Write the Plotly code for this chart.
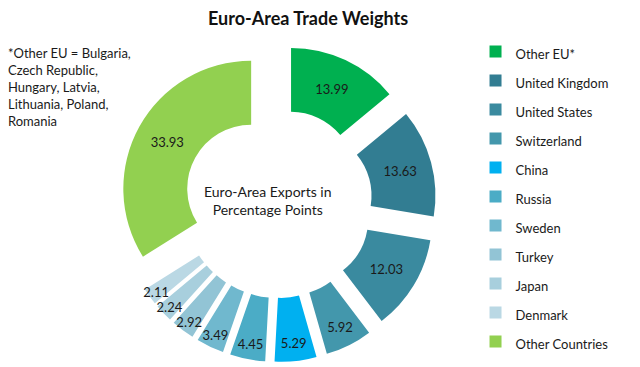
import plotly.graph_objects as go

categories = ["Other EU*", "United Kingdom", "United States", "Switzerland", "China",
              "Russia", "Sweden", "Turkey", "Japan", "Denmark", "Other Countries"]
values = [13.99, 13.63, 12.03, 5.92, 5.29, 4.45, 3.49, 2.92, 2.24, 2.11, 33.93]
colors = ["#00B050", "#327D92", "#3A8A9F", "#4397AC", "#00B0F0", "#4BACC6",
          "#70B8CE", "#92C4D5", "#A8CFDD", "#BAD8E4", "#92D050"]

title_text = "Euro-Area Trade Weights"
center_text = "Euro-Area Exports in<br>Percentage Points"
note_text = "*Other EU = Bulgaria,<br>Czech Republic,<br>Hungary, Latvia,<br>Lithuania, Poland,<br>Romania"

FONT = "Lato, 'Open Sans', sans-serif"

fig = go.Figure(go.Pie(
    labels=['<span style="font-size:13px">' + c + '</span>' for c in categories],
    values=values,
    text=[f"{v:.2f}" for v in values],
    textinfo="text",
    textposition="inside",
    insidetextorientation="horizontal",
    textfont=dict(family=FONT, size=13, color="#1a1a1a"),
    marker=dict(colors=colors, line=dict(width=0)),
    hole=0.5,
    pull=[0.24] * len(values),
    sort=False,
    direction="clockwise",
    rotation=0,
    domain=dict(x=[119.5 / 640, 436.5 / 640], y=[1 - 362 / 367, 1 - 45 / 367]),
    hoverinfo="label+value",
))

fig.update_layout(
    width=640, height=367,
    margin=dict(l=0, r=0, t=0, b=0),
    paper_bgcolor="white",
    font=dict(family=FONT, color="#1a1a1a"),
    uniformtext=dict(minsize=13, mode="show"),
    showlegend=True,
    legend=dict(
        x=0.743, xanchor="left", y=0.913, yanchor="top",
        font=dict(family=FONT, size=20, color="#1a1a1a"),
        bgcolor="rgba(0,0,0,0)",
        itemwidth=30,
    ),
    annotations=[
        dict(text="<b>" + title_text + "</b>", x=308 / 640, y=1 - 18 / 367,
             xref="paper", yref="paper", showarrow=False,
             font=dict(family=FONT, size=18, color="#111111"),
             xanchor="center", yanchor="middle"),
        dict(text=center_text, x=268 / 640, y=1 - 200 / 367,
             xref="paper", yref="paper", showarrow=False,
             font=dict(family=FONT, size=14, color="#1a1a1a"),
             xanchor="center", yanchor="middle", align="center"),
        dict(text=note_text, x=6 / 640, y=1 - 86.5 / 367,
             xref="paper", yref="paper", showarrow=False,
             font=dict(family=FONT, size=13, color="#1a1a1a"),
             xanchor="left", yanchor="middle", align="left"),
    ],
)

fig.write_html("out.html", config={"displayModeBar": False},
               post_script="document.body.style.margin='0';document.body.style.overflow='hidden';")
